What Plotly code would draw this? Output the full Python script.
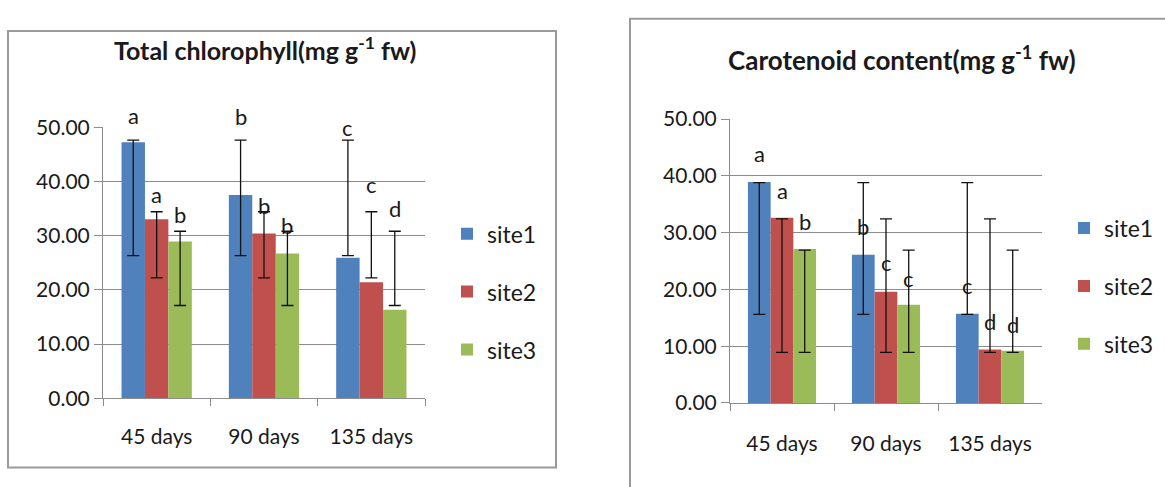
import plotly.graph_objects as go

# ---------------- data ----------------
categories = ["45 days", "90 days", "135 days"]
sites = ["site1", "site2", "site3"]

# Total chlorophyll (mg g-1 fw)
chl_site1 = [47.2, 37.5, 25.9]
chl_site2 = [33.0, 30.4, 21.4]
chl_site3 = [28.9, 26.7, 16.3]
chl_low_site1 = [26.3, 26.3, 26.3]
chl_high_site1 = [47.6, 47.6, 47.6]
chl_low_site2 = [22.2, 22.2, 22.2]
chl_high_site2 = [34.4, 34.4, 34.4]
chl_low_site3 = [17.1, 17.1, 17.1]
chl_high_site3 = [30.8, 30.8, 30.8]
chl_letters_site1 = ["a", "b", "c"]
chl_letters_site2 = ["a", "b", "c"]
chl_letters_site3 = ["b", "b", "d"]

# Carotenoid content (mg g-1 fw)
car_site1 = [38.9, 26.1, 15.7]
car_site2 = [32.6, 19.6, 9.4]
car_site3 = [27.1, 17.3, 9.2]
car_low_site1 = [15.6, 15.6, 15.6]
car_high_site1 = [38.8, 38.8, 38.8]
car_low_site2 = [8.9, 8.9, 8.9]
car_high_site2 = [32.4, 32.4, 32.4]
car_low_site3 = [8.9, 8.9, 8.9]
car_high_site3 = [26.9, 26.9, 26.9]
car_letters_site1 = ["a", "b", "c"]
car_letters_site2 = ["a", "c", "d"]
car_letters_site3 = ["b", "c", "d"]

y_ticks = [0, 10, 20, 30, 40, 50]

# ---------------- layout config ----------------
W, H = 1165, 487
FONT = "Lato, 'Open Sans', sans-serif"
TXT = "#1a1a1a"
colors = ["#4F81BD", "#C0504D", "#9BBB59"]
BARGAP = 0.345
Y_MAX = 50

# letter label heights (data units) - placement only
chl_label_y = [[52.2, 51.9, 49.9], [37.6, 35.6, 39.4], [33.9, 31.8, 35.0]]
car_label_y = [[43.9, 31.1, 20.6], [37.5, 24.7, 14.4], [31.9, 21.9, 13.9]]


def px_x(p):
    return p / W


def px_y(p):
    return 1 - p / H


fig = go.Figure()

panels = [
    dict(vals=[chl_site1, chl_site2, chl_site3],
         lows=[chl_low_site1, chl_low_site2, chl_low_site3],
         highs=[chl_high_site1, chl_high_site2, chl_high_site3],
         letters=[chl_letters_site1, chl_letters_site2, chl_letters_site3],
         label_y=chl_label_y, xa="x", ya="y", legend="legend",
         ydom=[px_y(405), px_y(119.3)]),
    dict(vals=[car_site1, car_site2, car_site3],
         lows=[car_low_site1, car_low_site2, car_low_site3],
         highs=[car_high_site1, car_high_site2, car_high_site3],
         letters=[car_letters_site1, car_letters_site2, car_letters_site3],
         label_y=car_label_y, xa="x2", ya="y2", legend="legend2",
         ydom=[px_y(410), px_y(110.7)]),
]

annotations = []
bar_w = (1 - BARGAP) / 3
for p in panels:
    d0, d1 = p["ydom"]
    for i, site in enumerate(sites):
        v = p["vals"][i]
        plus = [h - y for h, y in zip(p["highs"][i], v)]
        minus = [y - l for l, y in zip(p["lows"][i], v)]
        fig.add_trace(go.Bar(
            x=categories, y=v, name=site,
            marker=dict(color=colors[i], line=dict(width=0)),
            error_y=dict(type="data", array=plus, arrayminus=minus,
                         symmetric=False, color="#111111", thickness=1.3, width=6),
            xaxis=p["xa"], yaxis=p["ya"], legend=p["legend"],
            legendgroup=p["legend"] + site, hoverinfo="skip",
        ))
        for j, letter in enumerate(p["letters"][i]):
            annotations.append(dict(
                x=j + (i - 1) * bar_w, xref=p["xa"],
                y=d0 + p["label_y"][i][j] / Y_MAX * (d1 - d0), yref="paper",
                text=letter, showarrow=False,
                font=dict(family=FONT, size=22, color=TXT),
                xanchor="center", yanchor="middle",
            ))

# titles
annotations.append(dict(x=px_x(265), y=px_y(36), xref="paper", yref="paper",
                        text="<b>Total chlorophyll(mg g<sup>-1</sup> fw)</b>",
                        showarrow=False, font=dict(family=FONT, size=25, color=TXT),
                        xanchor="center", yanchor="middle"))
annotations.append(dict(x=px_x(902), y=px_y(47), xref="paper", yref="paper",
                        text="<b>Carotenoid content(mg g<sup>-1</sup> fw)</b>",
                        showarrow=False, font=dict(family=FONT, size=26, color=TXT),
                        xanchor="center", yanchor="middle"))

axis_common_y = dict(range=[0, Y_MAX], tickvals=y_ticks, tickformat=".2f",
                     showgrid=True, gridcolor="#8c8c8c", gridwidth=1,
                     showline=True, linecolor="#8c8c8c", linewidth=1,
                     ticks="outside", ticklen=8, tickcolor="#8c8c8c",
                     zeroline=False, fixedrange=True,
                     tickfont=dict(family=FONT, size=21, color=TXT))
axis_common_x = dict(type="category", showline=True, linecolor="#8c8c8c", linewidth=1,
                     ticks="outside", ticklen=7, tickcolor="#8c8c8c", tickson="boundaries",
                     showgrid=False, fixedrange=True,
                     tickfont=dict(family=FONT, size=21, color=TXT))

legend_common = dict(xanchor="left", yanchor="top", font=dict(family=FONT, size=23, color=TXT),
                     tracegroupgap=25, bgcolor="rgba(0,0,0,0)", borderwidth=0,
                     itemwidth=30, itemclick=False, itemdoubleclick=False)

fig.update_layout(
    width=W, height=H,
    margin=dict(l=0, r=0, t=0, b=0),
    paper_bgcolor="white", plot_bgcolor="white",
    barmode="group", bargap=BARGAP, bargroupgap=0,
    showlegend=True,
    xaxis=dict(domain=[px_x(103), px_x(425)], anchor="y", ticklabelstandoff=20,
               **axis_common_x),
    yaxis=dict(domain=panels[0]["ydom"], anchor="x", **axis_common_y),
    xaxis2=dict(domain=[px_x(730), px_x(1042)], anchor="y2", ticklabelstandoff=22,
                **axis_common_x),
    yaxis2=dict(domain=panels[1]["ydom"], anchor="x2", **axis_common_y),
    legend=dict(x=px_x(447), y=px_y(209), **legend_common),
    legend2=dict(x=px_x(1064), y=px_y(203), **legend_common),
    annotations=annotations,
    shapes=[
        dict(type="rect", xref="paper", yref="paper",
             x0=px_x(8), x1=px_x(556), y0=px_y(478), y1=px_y(18),
             line=dict(color="#9a9a9a", width=2), layer="below"),
        dict(type="rect", xref="paper", yref="paper",
             x0=px_x(630), x1=px_x(1200), y0=px_y(520), y1=px_y(5),
             line=dict(color="#9a9a9a", width=2), layer="below"),
    ],
)

fig.write_html("out.html")
